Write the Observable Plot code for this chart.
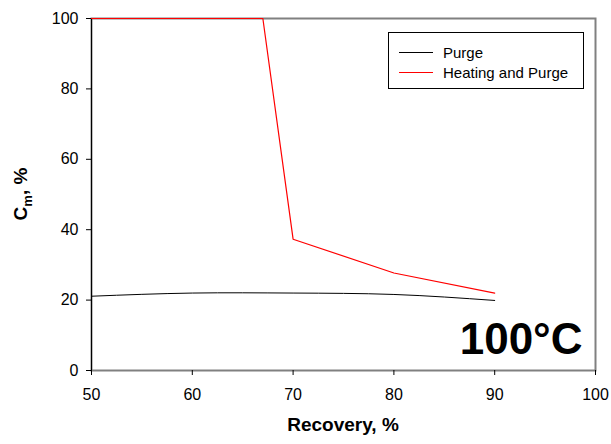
<!DOCTYPE html>
<html>
<head>
<meta charset="utf-8">
<script src="https://cdn.jsdelivr.net/npm/d3@7"></script>
<script src="https://cdn.jsdelivr.net/npm/@observablehq/plot@0.6"></script>
<style>
  body { margin: 0; background: #fff; }
  #chart { position: relative; width: 611px; height: 444px; font-family: "Liberation Sans", Arial, sans-serif; }
  .legend { position: absolute; left: 388px; top: 32px; width: 196px; height: 57px; box-sizing: border-box;
            border: 1px solid #000; background: #fff; font-size: 15px; color: #000; }
  .legend .row { position: absolute; left: 0; height: 20px; display: flex; align-items: center; }
  .legend .sw { width: 34px; height: 0; border-top: 1px solid; margin-left: 10px; margin-right: 10px; }
</style>
</head>
<body>
<div id="chart"></div>
<script>
// Recovery (%) on x, C_m (%) on y
const purgeX = [50, 60, 70, 80, 90];
const purgeY = [21.1, 22.0, 22.0, 21.6, 19.9];

const heatX = [50, 67, 70, 80, 90];
const heatY = [100, 100, 37.3, 27.7, 22.0];

const seriesNames = ["Purge", "Heating and Purge"];
const seriesColors = ["#000000", "#ff0000"];

const xTicks = [50, 60, 70, 80, 90, 100];
const yTicks = [0, 20, 40, 60, 80, 100];
const tempLabel = ["100°C"];

const purge = purgeX.map((x, i) => ({x, y: purgeY[i]}));
const heat = heatX.map((x, i) => ({x, y: heatY[i]}));

const W = 611, H = 444;
const mL = 91, mR = 16, mT = 18, mB = 74;

const plot = Plot.plot({
  width: W,
  height: H,
  marginLeft: mL,
  marginRight: mR,
  marginTop: mT,
  marginBottom: mB,
  style: { fontFamily: "Liberation Sans, Arial, sans-serif", fontSize: "16px", background: "#fff", color: "#000" },
  x: { domain: [50, 100] },
  y: { domain: [0, 100] },
  marks: [
    Plot.frame({ stroke: "#808080", strokeWidth: 2 }),
    Plot.ruleX([50], { stroke: "#000", strokeWidth: 1 }),
    Plot.axisX({ ticks: xTicks, tickSize: 5, tickPadding: 13, label: null, fontSize: 16 }),
    Plot.axisY({ ticks: yTicks, tickSize: 5, tickPadding: 8, label: null, fontSize: 16 }),
    Plot.line(purge, { x: "x", y: "y", stroke: seriesColors[0], strokeWidth: 1, curve: "natural" }),
    Plot.line(heat, { x: "x", y: "y", stroke: seriesColors[1], strokeWidth: 1.2 }),
    Plot.text(tempLabel, { text: d => d, frameAnchor: "bottom-right", dx: -13, dy: -17,
      fontSize: 44, fontWeight: "bold", fill: "#000" })
  ]
});

const chart = document.getElementById("chart");
chart.appendChild(plot);

// axis titles
const svg = d3.select(plot);
svg.append("text")
  .attr("x", (mL + W - mR) / 2)
  .attr("y", 431)
  .attr("text-anchor", "middle")
  .attr("font-size", 19)
  .attr("font-weight", "bold")
  .attr("fill", "#000")
  .text("Recovery, %");

const yt = svg.append("text")
  .attr("transform", `translate(27,${(mT + H - mB) / 2}) rotate(-90)`)
  .attr("text-anchor", "middle")
  .attr("font-size", 19)
  .attr("font-weight", "bold")
  .attr("fill", "#000");
yt.append("tspan").text("C");
yt.append("tspan").attr("font-size", 13).attr("dy", 5).text("m");
yt.append("tspan").attr("dy", -5).text(", %");

// legend
const legend = document.createElement("div");
legend.className = "legend";
seriesNames.forEach((name, i) => {
  const row = document.createElement("div");
  row.className = "row";
  row.style.top = (9 + i * 20) + "px";
  const sw = document.createElement("span");
  sw.className = "sw";
  sw.style.borderTopColor = seriesColors[i];
  const lab = document.createElement("span");
  lab.textContent = name;
  row.appendChild(sw);
  row.appendChild(lab);
  legend.appendChild(row);
});
chart.appendChild(legend);
</script>
</body>
</html>
